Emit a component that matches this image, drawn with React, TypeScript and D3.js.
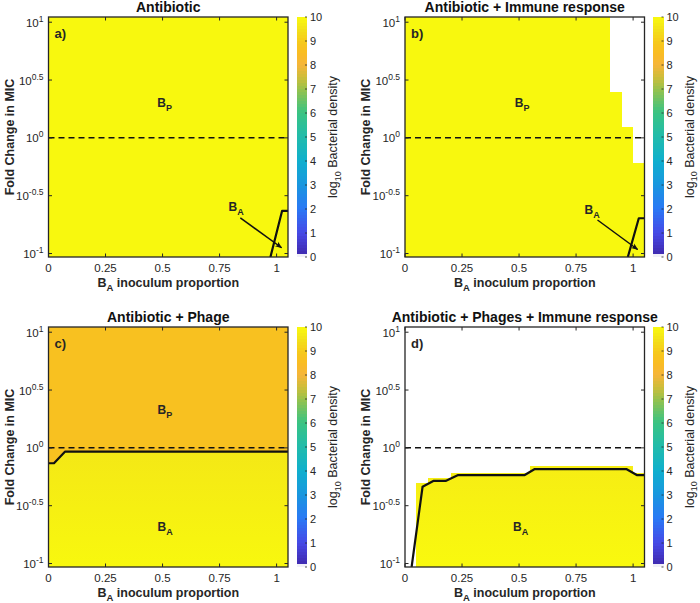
import React from "react";
import * as d3 from "d3";

const FONT = "'Liberation Sans', Arial, Helvetica, sans-serif";
const TXT = "#262626";

// ---------- grid / axes ----------
const columnEdges = [0, 0.05, 0.1, 0.15, 0.2, 0.25, 0.3, 0.35, 0.4, 0.45, 0.5, 0.55, 0.6, 0.65, 0.7, 0.75, 0.8, 0.85, 0.9, 0.95, 1.0, 1.05];
const logMicMin = -1.03;
const logMicMax = 1.045;
const xTickValues = [0, 0.25, 0.5, 0.75, 1];
const xTickLabels = ["0", "0.25", "0.5", "0.75", "1"];
const yTickExponents = [1, 0.5, 0, -0.5, -1];
const yTickLabels = ["1", "0.5", "0", "-0.5", "-1"];
const colorbarTicks = [0, 1, 2, 3, 4, 5, 6, 7, 8, 9, 10];

// ---------- panel a: Antibiotic ----------
const aDensity = 9.95;
const aContourX = [0.973, 1.024, 1.05];
const aContourLogMic = [-1.03, -0.632, -0.632];

// ---------- panel b: Antibiotic + Immune response ----------
const bDensity = 9.95;
const bClearedAboveLogMic: (number | null)[] = [null, null, null, null, null, null, null, null, null, null, null, null, null, null, null, null, null, null, 0.397, 0.094, -0.217];
const bContourX = [0.977, 1.025, 1.05];
const bContourLogMic = [-1.03, -0.695, -0.695];

// ---------- panel c: Antibiotic + Phage ----------
const cDensityAbove = 8.65;
const cDensityBelowNearLine = 9.62;
const cDensityBelowBottom = 9.95;
const cContourX = [0, 0.024, 0.072, 1.05];
const cContourLogMic = [-0.133, -0.133, -0.033, -0.033];

// ---------- panel d: Antibiotic + Phages + Immune response ----------
const dSurvivalTopLogMic: (number | null)[] = [null, -0.304, -0.26, -0.26, -0.215, -0.215, -0.215, -0.215, -0.215, -0.215, -0.215, -0.161, -0.161, -0.161, -0.161, -0.161, -0.161, -0.161, -0.161, -0.161, -0.215];
const dDensityTop = 9.72;
const dDensityBottom = 9.97;
const dContourX = [0.029, 0.077, 0.124, 0.178, 0.233, 0.525, 0.569, 0.97, 1.016, 1.05];
const dContourLogMic = [-1.03, -0.336, -0.286, -0.286, -0.235, -0.235, -0.183, -0.183, -0.235, -0.235];

// ---------- colormap (parula-like, 0 = white) ----------
const parulaStops = [0, 1, 2, 3, 4, 5, 6, 7, 7.5, 8, 8.5, 9, 9.5, 10];
const parulaColors = ["#3e26a8", "#4649e6", "#2a78f5", "#1996df", "#0fafce", "#21bbab", "#38c383", "#98c24c", "#cfbd3a", "#f5b53a", "#f9bc22", "#f6cb1a", "#f3e219", "#f9fa0d"];
const parula = d3.scaleLinear<string>().domain(parulaStops).range(parulaColors).interpolate(d3.interpolateRgb).clamp(true);
const cmap = (v: number) => (v < 0.125 ? "#f1f0f8" : parula(v));

const PW = 239.5;
const PH = 240;

type PanelProps = {
  id: string;
  left: number;
  top: number;
  title: string;
  tag: string;
  kind: "a" | "b" | "c" | "d";
};

function Sub({ base, sub, x, y, size = 12, weight = "bold", anchor = "start" }: any) {
  return (
    <text x={x} y={y} fontFamily={FONT} fontSize={size} fontWeight={weight} fill={TXT} textAnchor={anchor}>
      {base}
      <tspan dy={4} fontSize={size * 0.75}>{sub}</tspan>
    </text>
  );
}

function Panel({ id, left, top, title, tag, kind }: PanelProps) {
  const x = d3.scaleLinear().domain([0, 1.05]).range([left, left + PW]);
  const y = d3.scaleLog().domain([Math.pow(10, logMicMin), Math.pow(10, logMicMax)]).range([top + PH, top]);
  const yl = (v: number) => y(Math.pow(10, v));
  const bottom = top + PH;
  const right = left + PW;
  const line = d3.line<[number, number]>().x((d) => x(d[0])).y((d) => yl(d[1]));

  const cells: React.ReactNode[] = [];
  let contour: [number, number][] = [];
  const defs: React.ReactNode[] = [];

  if (kind === "a") {
    for (let i = 0; i < columnEdges.length - 1; i++) {
      cells.push(<rect key={i} x={x(columnEdges[i])} width={x(columnEdges[i + 1]) - x(columnEdges[i])} y={top} height={PH} fill={cmap(aDensity)} shapeRendering="crispEdges" />);
    }
    contour = aContourX.map((v, i) => [v, aContourLogMic[i]]);
  } else if (kind === "b") {
    for (let i = 0; i < columnEdges.length - 1; i++) {
      const t = bClearedAboveLogMic[i];
      const yt = t === null ? top : yl(t);
      cells.push(<rect key={i} x={x(columnEdges[i])} width={x(columnEdges[i + 1]) - x(columnEdges[i])} y={yt} height={bottom - yt} fill={cmap(bDensity)} shapeRendering="crispEdges" />);
    }
    contour = bContourX.map((v, i) => [v, bContourLogMic[i]]);
  } else if (kind === "c") {
    for (let i = 0; i < columnEdges.length - 1; i++) {
      cells.push(<rect key={i} x={x(columnEdges[i])} width={x(columnEdges[i + 1]) - x(columnEdges[i])} y={top} height={PH} fill={cmap(cDensityAbove)} shapeRendering="crispEdges" />);
    }
    contour = cContourX.map((v, i) => [v, cContourLogMic[i]]);
    defs.push(
      <linearGradient key="g" id={id + "g"} gradientUnits="userSpaceOnUse" x1={0} x2={0} y1={yl(-0.033)} y2={bottom}>
        <stop offset="0" stopColor={cmap(cDensityBelowNearLine)} />
        <stop offset="1" stopColor={cmap(cDensityBelowBottom)} />
      </linearGradient>
    );
    const area = d3.area<[number, number]>().x((d) => x(d[0])).y0(bottom).y1((d) => yl(d[1]));
    cells.push(<path key="lower" d={area(contour) || ""} fill={`url(#${id}g)`} />);
  } else {
    defs.push(
      <linearGradient key="g" id={id + "g"} gradientUnits="userSpaceOnUse" x1={0} x2={0} y1={yl(-0.16)} y2={bottom}>
        <stop offset="0" stopColor={cmap(dDensityTop)} />
        <stop offset="1" stopColor={cmap(dDensityBottom)} />
      </linearGradient>
    );
    for (let i = 0; i < columnEdges.length - 1; i++) {
      const t = dSurvivalTopLogMic[i];
      if (t === null) continue;
      const yt = yl(t);
      cells.push(<rect key={i} x={x(columnEdges[i])} width={x(columnEdges[i + 1]) - x(columnEdges[i])} y={yt} height={bottom - yt} fill={`url(#${id}g)`} shapeRendering="crispEdges" />);
    }
    contour = dContourX.map((v, i) => [v, dContourLogMic[i]]);
  }

  const tickLen = 3.5;
  const cbX = left + 248;
  const cbW = 10.5;
  const cbScale = d3.scaleLinear().domain([0, 10]).range([bottom, top]);
  const cbSteps = d3.range(0, 10, 0.125);

  return (
    <g>
      <defs>
        <clipPath id={id + "clip"}>
          <rect x={left} y={top} width={PW} height={PH} />
        </clipPath>
        {defs}
      </defs>
      <text x={(left + right) / 2} y={top - 5} textAnchor="middle" fontFamily={FONT} fontSize={14} fontWeight="bold" fill="#111">{title}</text>
      <g clipPath={`url(#${id}clip)`}>
        {cells}
        <line x1={left} x2={right} y1={yl(0)} y2={yl(0)} stroke="#111" strokeWidth={1.5} strokeDasharray="6,4" />
        <path d={line(contour) || ""} fill="none" stroke="#111" strokeWidth={2.2} strokeLinejoin="round" />
      </g>
      {/* frame & ticks */}
      <rect x={left} y={top} width={PW} height={PH} fill="none" stroke={TXT} strokeWidth={1.3} />
      {xTickValues.map((v, i) => (
        <g key={"xt" + i}>
          <line x1={x(v)} x2={x(v)} y1={bottom} y2={bottom - tickLen} stroke={TXT} strokeWidth={1} />
          <line x1={x(v)} x2={x(v)} y1={top} y2={top + tickLen} stroke={TXT} strokeWidth={1} />
          <text x={x(v)} y={bottom + 14.5} textAnchor="middle" fontFamily={FONT} fontSize={11.5} fill={TXT}>{xTickLabels[i]}</text>
        </g>
      ))}
      {yTickExponents.map((v, i) => (
        <g key={"yt" + i}>
          <line x1={left} x2={left + tickLen} y1={yl(v)} y2={yl(v)} stroke={TXT} strokeWidth={1} />
          <line x1={right} x2={right - tickLen} y1={yl(v)} y2={yl(v)} stroke={TXT} strokeWidth={1} />
          <text x={left - 5} y={yl(v) + 4.5} textAnchor="end" fontFamily={FONT} fontSize={11.5} fill={TXT}>
            10<tspan dy={-5} fontSize={8.5}>{yTickLabels[i]}</tspan>
          </text>
        </g>
      ))}
      {/* axis labels */}
      <text transform={`translate(${left - 35},${(top + bottom) / 2}) rotate(-90)`} textAnchor="middle" fontFamily={FONT} fontSize={12.5} fontWeight="bold" fill={TXT}>Fold Change in MIC</text>
      <text x={(left + right) / 2} y={bottom + 29.5} textAnchor="middle" fontFamily={FONT} fontSize={12.5} fontWeight="bold" fill={TXT}>
        B<tspan dy={4} fontSize={9.5}>A</tspan><tspan dy={-4}> inoculum proportion</tspan>
      </text>
      {/* panel tag */}
      <text x={left + 6} y={top + 21} fontFamily={FONT} fontSize={13} fontWeight="bold" fill={TXT}>{tag}</text>
      {/* region labels */}
      {kind === "a" && (
        <g>
          <Sub base="B" sub="P" x={x(0.477)} y={yl(0.3) + 4} />
          <Sub base="B" sub="A" x={x(0.789)} y={yl(-0.597) + 4} />
          <line x1={x(0.841)} y1={yl(-0.692)} x2={x(1.022)} y2={yl(-0.95)} stroke="#111" strokeWidth={1.5} markerEnd={`url(#arrowhead)`} />
        </g>
      )}
      {kind === "b" && (
        <g>
          <Sub base="B" sub="P" x={x(0.481)} y={yl(0.3) + 4} />
          <Sub base="B" sub="A" x={x(0.787)} y={yl(-0.623) + 4} />
          <line x1={x(0.844)} y1={yl(-0.71)} x2={x(1.02)} y2={yl(-0.965)} stroke="#111" strokeWidth={1.5} markerEnd={`url(#arrowhead)`} />
        </g>
      )}
      {kind === "c" && (
        <g>
          <Sub base="B" sub="P" x={x(0.478)} y={yl(0.33) + 4} />
          <Sub base="B" sub="A" x={x(0.478)} y={yl(-0.688) + 4} />
        </g>
      )}
      {kind === "d" && (
        <g>
          <Sub base="B" sub="A" x={x(0.474)} y={yl(-0.68) + 4} />
        </g>
      )}
      {/* colorbar */}
      <g>
        {cbSteps.map((v, i) => (
          <rect key={i} x={cbX} width={cbW} y={cbScale(v + 0.125)} height={cbScale(v) - cbScale(v + 0.125) + 0.3} fill={cmap(v + 0.0625)} shapeRendering="crispEdges" />
        ))}
        {colorbarTicks.map((t) => (
          <g key={"cb" + t}>
            <line x1={cbX + cbW} x2={cbX + cbW - 2} y1={cbScale(t)} y2={cbScale(t)} stroke={TXT} strokeWidth={0.8} />
            <text x={cbX + cbW + 3} y={cbScale(t) + 4} fontFamily={FONT} fontSize={11} fill={TXT}>{t}</text>
          </g>
        ))}
        <text transform={`translate(${cbX + 40.5},${(top + bottom) / 2}) rotate(-90)`} textAnchor="middle" fontFamily={FONT} fontSize={12.5} fill={TXT}>
          log<tspan dy={3.5} fontSize={9}>10</tspan><tspan dy={-3.5}> Bacterial density</tspan>
        </text>
      </g>
    </g>
  );
}

export default function App() {
  return (
    <svg width={700} height={603} style={{ position: "absolute", left: 0, top: 0, background: "#fff" }}>
      <defs>
        <marker id="arrowhead" viewBox="0 0 10 10" refX="9" refY="5" markerWidth="7" markerHeight="7" orient="auto" markerUnits="userSpaceOnUse">
          <path d="M0,1 L10,5 L0,9 L2.5,5 Z" fill="#111" />
        </marker>
      </defs>
      <rect x={0} y={0} width={700} height={603} fill="#fff" />
      <Panel id="pa" left={48.5} top={17} title="Antibiotic" tag="a)" kind="a" />
      <Panel id="pb" left={405} top={17} title="Antibiotic + Immune response" tag="b)" kind="b" />
      <Panel id="pc" left={48.5} top={327} title="Antibiotic + Phage" tag="c)" kind="c" />
      <Panel id="pd" left={405} top={327} title="Antibiotic + Phages + Immune response" tag="d)" kind="d" />
    </svg>
  );
}
